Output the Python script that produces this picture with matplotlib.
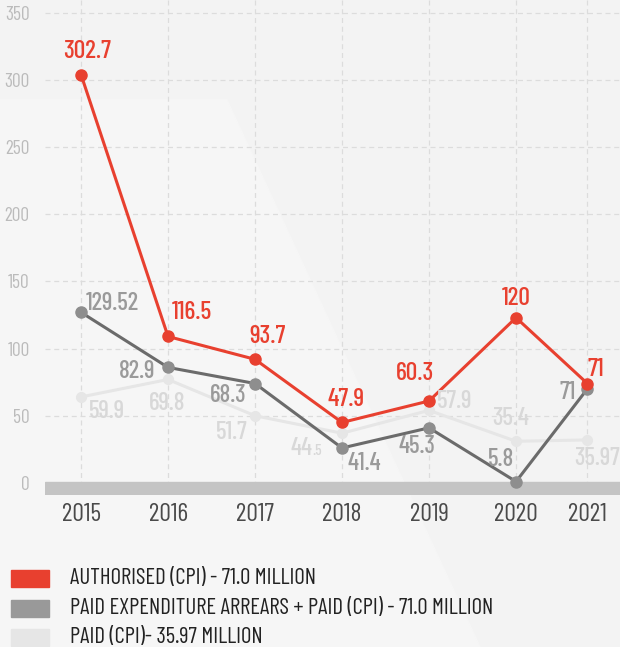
import matplotlib.pyplot as plt
from matplotlib.patches import Rectangle, Polygon

plt.rcParams['font.family'] = ['Barlow Condensed', 'DejaVu Sans']

years = ['2015', '2016', '2017', '2018', '2019', '2020', '2021']
# the source chart spaces the last year a little closer
x_pos = [0, 1, 2, 3, 4, 5, 5.82]

# plotted point heights
authorised = [304, 109, 92, 45, 61, 123, 74]
arrears_paid = [127, 86, 74, 26, 41, 1, 70]
paid = [64, 77, 50, 37, 54, 31, 32]

# printed value labels
authorised_lbl = ['302.7', '116.5', '93.7', '47.9', '60.3', '120', '71']
arrears_paid_lbl = ['129.52', '82.9', '68.3', '41.4', '45.3', '5.8', '71']
paid_lbl = ['59.9', '69.8', '51.7', '44.5', '57.9', '35.4', '35.97']

legend_labels = ['AUTHORISED (CPI) - 71.0 MILLION',
                 'PAID EXPENDITURE ARREARS + PAID (CPI) - 71.0 MILLION',
                 'PAID (CPI)- 35.97 MILLION']

RED = '#E8402F'
DARK = '#6B6B6B'
DARK_PT = '#8E8E8E'
DARK_TXT = '#9A9A9A'
LIGHT = '#E6E6E6'
LIGHT_TXT = '#D8D8D8'

W, H = 620, 647
fig = plt.figure(figsize=(6.2, 6.47), dpi=100)
fig.patch.set_facecolor('#F3F3F3')

# faint lighter panel in the background
bg = [(0, 100), (227, 100), (480, 647), (0, 647)]
fig.patches.append(Polygon([(x / W, 1 - y / H) for x, y in bg], closed=True,
                           transform=fig.transFigure, color='#F6F6F6', zorder=-1))

ax = fig.add_axes([45 / W, 1 - 495 / H, 575 / W, 495 / H])
ax.set_facecolor('none')

ax.set_xlim(-0.414, 6.195)
ax.set_ylim(-9, 359.5)

ax.axhspan(-9, 0.5, color='#C4C4C4', zorder=1.8)

ax.set_yticks(range(0, 351, 50))
ax.set_xticks(x_pos)
ax.set_xticklabels(years)
ax.tick_params(axis='y', length=0, pad=11, labelsize=14, labelcolor='#BBBBBB')
ax.tick_params(axis='x', length=0, pad=6, labelsize=18.5, labelcolor='#4A4A4A')
for s in ax.spines.values():
    s.set_visible(False)
ax.grid(True, linestyle=(0, (4, 3)), color='#DCDCDC', linewidth=0.9)

ax.plot(x_pos, paid, color=LIGHT, lw=2.2, marker='o', ms=7, zorder=2)
ax.plot(x_pos, arrears_paid, color=DARK, lw=2.2, marker='o', ms=8,
        markerfacecolor=DARK_PT, markeredgecolor=DARK_PT, zorder=3)
ax.plot(x_pos, authorised, color=RED, lw=2.2, marker='o', ms=8, zorder=4)

# label offsets in pixels (dx, dy)
red_off = [(6, 23), (24, 24), (13, 23), (4, 23), (-14, 27), (0, 19), (8, 14)]
dark_off = [(31, 9), (-31, -4), (-27, -12), (22, -16), (-12, -19), (-15, 22), (-20, -4)]
light_off = [(26, -15), (-1, -24), (-23, -17), (-36, -15), (26, 9), (-5, 23), (10, -19)]

for x, y, t, o in zip(x_pos, authorised, authorised_lbl, red_off):
    ax.annotate(t, (x, y), xytext=o, textcoords='offset pixels', ha='center',
                va='center', fontsize=18.5, color=RED, fontweight='medium', zorder=6)
for x, y, t, o in zip(x_pos, arrears_paid, arrears_paid_lbl, dark_off):
    ax.annotate(t, (x, y), xytext=o, textcoords='offset pixels', ha='center',
                va='center', fontsize=18, color=DARK_TXT, fontweight='medium', zorder=6)
for x, y, t, o in zip(x_pos, paid, paid_lbl, light_off):
    if t == '44.5':
        whole, frac = t.split('.')
        ax.annotate(whole, (x, y), xytext=(o[0] + 6, o[1]), textcoords='offset pixels',
                    ha='right', va='center', fontsize=18, color=LIGHT_TXT,
                    fontweight='medium', zorder=6)
        ax.annotate('.' + frac, (x, y), xytext=(o[0] + 6, o[1] - 3), textcoords='offset pixels',
                    ha='left', va='center', fontsize=11, color=LIGHT_TXT,
                    fontweight='medium', zorder=6)
        continue
    ax.annotate(t, (x, y), xytext=o, textcoords='offset pixels', ha='center',
                va='center', fontsize=18, color=LIGHT_TXT, fontweight='medium', zorder=6)

# legend drawn by hand
for i, (lbl, c) in enumerate(zip(legend_labels, [RED, '#999999', '#E6E6E6'])):
    yc = 578.5 + i * 29.5
    fig.patches.append(Rectangle((11 / W, 1 - (yc + 8.5) / H), 38 / W, 17 / H,
                                 transform=fig.transFigure, color=c, zorder=5))
    fig.text(70 / W, 1 - yc / H, lbl, ha='left', va='center', fontsize=16.4,
             color='#222222')

fig.savefig('out.png', dpi=100, facecolor=fig.get_facecolor())
